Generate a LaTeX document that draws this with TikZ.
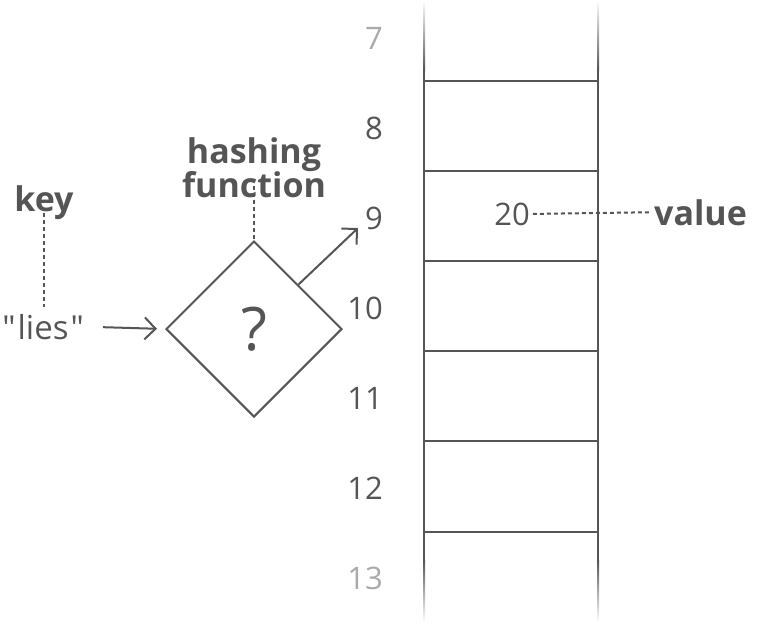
\documentclass[tikz,border=0pt]{standalone}
\usepackage{fontspec}
\newfontfamily\osans{Open Sans}
\usetikzlibrary{arrows.meta,shapes.geometric}
\definecolor{ink}{HTML}{555555}
\definecolor{faint}{HTML}{AAAAAA}
\tikzset{
  lbl/.style={font=\osans\fontsize{31}{36}\selectfont, text=ink, inner sep=0pt},
  bold/.style={font=\osans\fontsize{34}{40}\selectfont\bfseries, text=ink, inner sep=0pt},
  num/.style={lbl, anchor=base east},
  dots/.style={draw=ink, line width=2pt, dash pattern=on 4pt off 3pt},
  link/.style={draw=ink, line width=2pt, -{Straight Barb[length=11pt,width=22pt]}},
  rule/.style={draw=ink, line width=2pt},
}
\begin{document}
\begin{tikzpicture}[x=1pt,y=-1pt]
\useasboundingbox (0,0) rectangle (760,632);
% table verticals with fades
\foreach \x in {424,598}{
  \shade[top color=white, bottom color=ink] (\x-1,0) rectangle (\x+1,70);
  \fill[ink] (\x-1,70) rectangle (\x+1,560);
  \shade[top color=ink, bottom color=white] (\x-1,560) rectangle (\x+1,622);
}
\foreach \y in {81,171,261,351,441,532}{
  \draw[rule] (423,\y) -- (599,\y);
}
% row numbers
\node[num, text=faint] (n7) at (383,49) {7};
\node[num] (n8) at (383,139) {8};
\node[num] (n9) at (383,229) {9};
\node[num] (n10) at (383,319) {10};
\node[num] (n11) at (383,409) {11};
\node[num] (n12) at (383,499) {12};
\node[num, text=faint] (n13) at (383,589) {13};
% value
\node[lbl, anchor=base] (v20) at (512,225) {20};
\node[bold, anchor=base west] (value) at (654,225) {value};
\draw[dots] ([xshift=3pt]v20.east) -- ([xshift=-4pt]value.west);
% key
\node[bold, anchor=base] (key) at (44,211) {key};
\node[lbl, font=\osans\fontsize{33}{38}\selectfont, anchor=base east] (lies) at (84,339) {"\kern2pt lies\kern2pt"};
\coordinate (keybot) at (44,307);
\draw[dots] ([yshift=6pt]key.south) -- (keybot);
% hashing function
\node[bold, anchor=base] (hashing) at (254,163) {hashing};
\node[bold, anchor=base] (function) at (254,197) {function};
\node[diamond, draw=ink, line width=2pt, minimum width=176pt, minimum height=176pt, inner sep=0pt,
      font=\osans\fontsize{60}{60}\selectfont, text=ink] (d) at (254,329) {?};
\draw[dots] ([yshift=12pt]function.south) -- (d.north);
\draw[link, shorten <=19pt, shorten >=8pt] (lies.east) -- (d.west);
\coordinate (out9) at (358,228);
\draw[link] (d.north east) -- (out9);
\end{tikzpicture}
\end{document}
